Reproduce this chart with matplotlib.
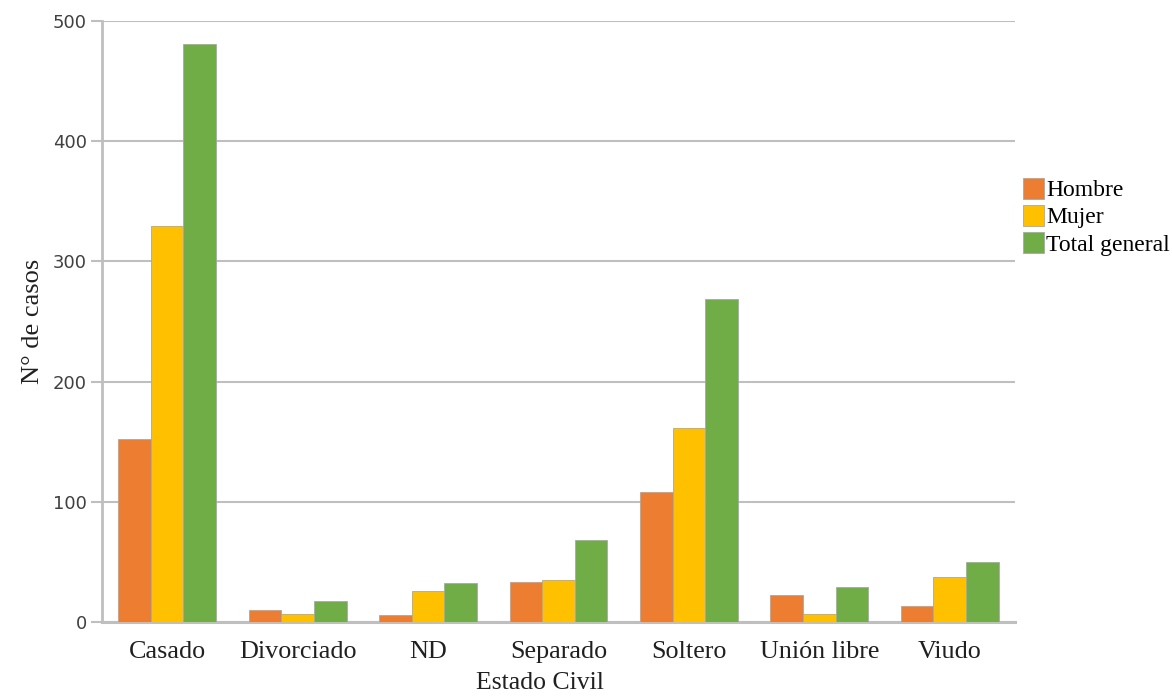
import numpy as np
import matplotlib.pyplot as plt

# Casos por estado civil y sexo
estados = ["Casado", "Divorciado", "ND", "Separado", "Soltero", "Unión libre", "Viudo"]
hombre = [152, 10, 6, 33, 108, 22, 13]
mujer = [329, 7, 26, 35, 161, 7, 37]
total = [481, 17, 32, 68, 269, 29, 50]

series = [("Hombre", hombre, "#ED7D31"),
          ("Mujer", mujer, "#FFC000"),
          ("Total general", total, "#70AD47")]

serif = "Liberation Serif"
grey = "#bfbfbf"

fig = plt.figure(figsize=(11.72, 6.98), dpi=100)
ax = fig.add_axes([0.087, 0.109, 0.779, 0.861])

x = np.arange(len(estados))
w = 0.25
for i, (name, vals, col) in enumerate(series):
    ax.bar(x + (i - 1) * w, vals, w, color=col, label=name,
           edgecolor="#a8a8a8", linewidth=0.6, zorder=3)

ax.set_xlim(-0.5, len(estados) - 0.5)
ax.set_ylim(0, 500)
ax.set_yticks(range(0, 501, 100))
ax.yaxis.grid(True, color=grey, linewidth=1.5, zorder=0)
ax.set_axisbelow(True)

for s in ["top", "right"]:
    ax.spines[s].set_visible(False)
ax.spines["left"].set_color(grey)
ax.spines["left"].set_linewidth(2)
ax.spines["bottom"].set_color(grey)
ax.spines["bottom"].set_linewidth(2.2)

ax.tick_params(axis="y", length=8, width=1.5, color=grey, pad=3,
               labelsize=13, labelcolor="#404040")
ax.tick_params(axis="x", length=0, pad=14)
ax.set_xticks(x)
ax.set_xticklabels(estados, fontfamily=serif, fontsize=18.8, color="#202020")

ax.set_xlabel("Estado Civil", fontfamily=serif, fontsize=18.5, color="#202020")
ax.xaxis.set_label_coords(0.48, -0.083)
ax.set_ylabel("N° de casos", fontfamily=serif, fontsize=19, color="#202020")
ax.yaxis.set_label_coords(-0.064, 0.5)

leg = ax.legend(loc="upper left", bbox_to_anchor=(0.998, 0.755), frameon=False,
                prop={"family": serif, "size": 17}, handlelength=0.9,
                handleheight=1.0, handletextpad=0.1, labelspacing=0.15,
                borderaxespad=0)

fig.savefig("out.png", dpi=100)
